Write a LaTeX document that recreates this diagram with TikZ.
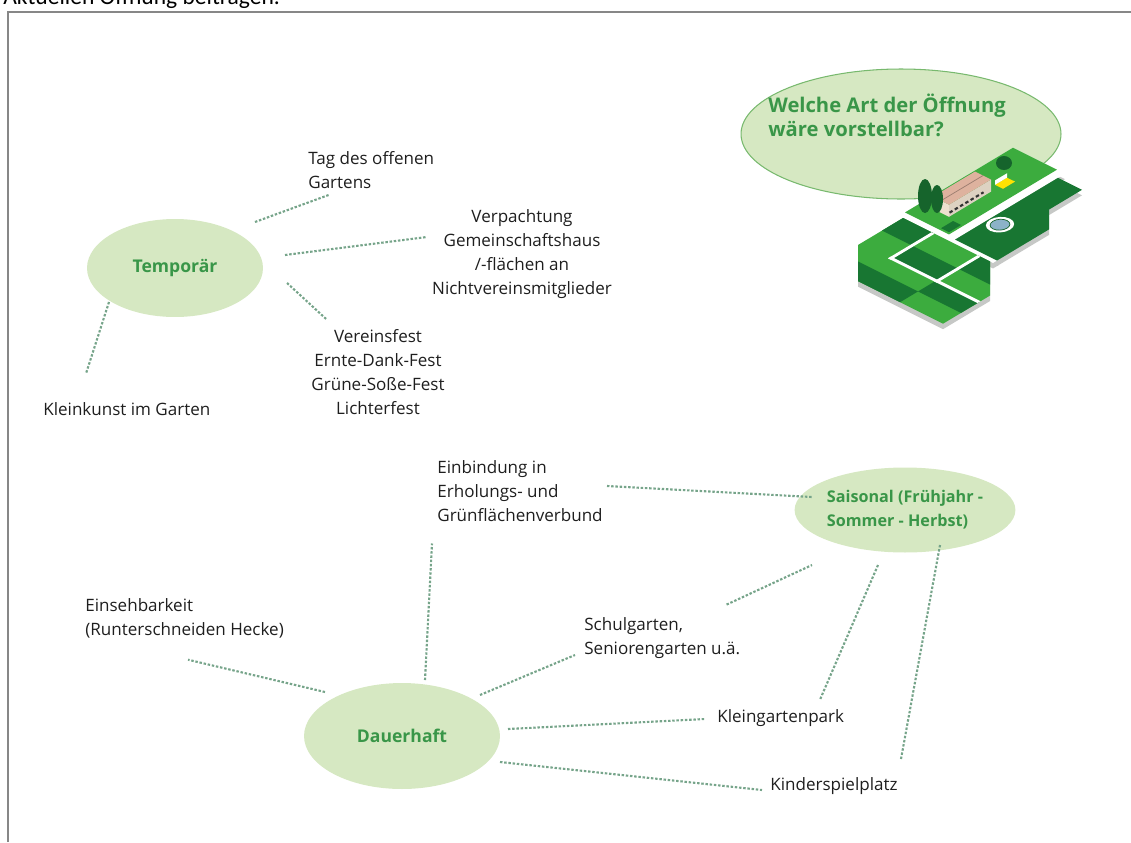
\documentclass[tikz,border=0pt]{standalone}
\usepackage{fontspec}
\setmainfont{Open Sans}
\newfontfamily\capfont{Carlito}
\usetikzlibrary{shapes.geometric,calc}

\definecolor{hubfill}{RGB}{214,232,194}
\definecolor{hubtext}{RGB}{57,150,72}
\definecolor{linkcol}{RGB}{118,164,138}
\definecolor{inkgray}{RGB}{30,30,30}
\definecolor{framegray}{RGB}{135,135,135}
\definecolor{bubbleline}{RGB}{120,185,110}
\definecolor{plotlight}{RGB}{60,172,62}
\definecolor{plotdark}{RGB}{24,118,50}
\definecolor{plotside}{RGB}{198,200,198}
\definecolor{treegreen}{RGB}{22,100,44}
\definecolor{pondblue}{RGB}{140,178,200}
\definecolor{roofred}{RGB}{222,178,158}
\definecolor{wallbeige}{RGB}{238,224,206}

\tikzset{
  hub/.style={ellipse, fill=hubfill, text=hubtext, inner sep=0pt,
    font=\bfseries\fontsize{10}{13.7}\selectfont},
  leaf/.style={text=inkgray, inner sep=0pt, font=\fontsize{9.7}{13.7}\selectfont},
  bubble/.style={ellipse, fill=hubfill, draw=bubbleline, line width=0.6pt,
    minimum width=6.4cm, minimum height=2.6cm},
  ask/.style={text=hubtext, inner sep=0pt, font=\bfseries\fontsize{11.5}{13.7}\selectfont},
  link/.style={linkcol, line width=1.2pt, dash pattern=on 1.4pt off 1pt},
}

\begin{document}
\begin{tikzpicture}[x=0.02cm,y=-0.02cm]
\clip (0,0) rectangle (1131,842);
\useasboundingbox (0,0) rectangle (1131,842);

\node[anchor=base west, inner sep=0pt, font=\capfont\fontsize{13.4}{16}\selectfont] (kopf) at (3,4) {Aktuellen Öffnung beitragen.};
\draw[framegray, line width=1pt] (8,842) -- (8,12) -- (1131,12);

% Fragebubble und Parzelle
\node[bubble] (frage) at (901,134) {};

\begin{scope}[shift={(903,218)}, x={(0.02cm,-0.01cm)}, y={(0.02cm,0.012cm)}]
  \begin{scope}[shift={(5,-5)}]
    \fill[plotside] (0,-45) -- (0,0) -- (87,0) -- (118,-31) -- (118,-78) -- (33,-78) -- cycle;
    \fill[plotside] (48,4) -- (48,107) -- (72,107) -- (72,74) -- (90,56) -- (90,4) -- cycle;
    \fill[plotside] (-4,0) -- (-4,114) -- (48,114) -- (48,6) -- (90,6) -- (90,0) -- cycle;
  \end{scope}
  \fill[white] (-4,0) -- (-4,114) -- (48,114) -- (48,6) -- (90,6) -- (90,0) -- cycle;
  \begin{scope}
    \clip (0,-45) -- (0,0) -- (87,0) -- (118,-31) -- (118,-78) -- (33,-78) -- cycle;
    \fill[plotlight] (-10,-90) -- (-10,10) -- (130,10) -- (130,-90) -- cycle;
    \fill[plotdark] (0,-21) -- (0,0) -- (30,0) -- (30,-21) -- cycle;
    \fill[plotdark] (30,-42) -- (30,-21) -- (76,-21) -- (76,-42) -- cycle;
    \fill[plotdark] (76,-21) -- (76,0) -- (120,0) -- (120,-21) -- cycle;
    \fill[plotdark] (0,-80) -- (0,-60) -- (75,-60) -- (75,-80) -- cycle;
    \fill[plotdark] (75,-60) -- (75,-42) -- (120,-42) -- (120,-60) -- cycle;
    \fill[white] (28.5,-43.5) -- (28.5,0) -- (31.5,0) -- (31.5,-43.5) -- cycle;
    \fill[white] (74.5,-43.5) -- (74.5,0) -- (77.5,0) -- (77.5,-43.5) -- cycle;
    \fill[white] (28.5,-43.5) -- (28.5,-40.5) -- (120,-40.5) -- (120,-43.5) -- cycle;
  \end{scope}
  \fill[plotdark] (48,4) -- (48,107) -- (72,107) -- (72,74) -- (90,56) -- (90,4) -- cycle;
  \fill[plotlight] (-4,6) -- (-4,114) -- (40,114) -- (40,6) -- cycle;
  \fill[plotdark] (30,8) -- (30,20) -- (38,20) -- (38,8) -- cycle;
  \fill[white] (59,38) circle [radius=10];
  \filldraw[fill=pondblue, draw=treegreen, line width=0.4pt] (59,38) circle [radius=7];
  % Haus
  \fill[wallbeige] (8,22) -- (24,22) -- (13,33) -- (-3,33) -- cycle;
  \fill[wallbeige!85!gray] (24,22) -- (24,64) -- (13,75) -- (13,33) -- cycle;
  \fill[roofred] (-3,33) -- (13,33) -- (13,75) -- (-3,75) -- cycle;
  \draw[roofred!70!black, line width=0.4pt] (5,33) -- (5,75);
  \draw[gray!40!black, line width=1.2pt, dash pattern=on 2pt off 1.5pt] (20.5,26) -- (20.5,60);
  \fill[yellow!85!orange] (20,72) -- (28,72) -- (28,84) -- (20,84) -- cycle;
  \fill[white] (16,76) -- (20,72) -- (20,84) -- (16,88) -- cycle;
\end{scope}

\fill[treegreen] (925,196) ellipse (7 and 17);
\fill[treegreen] (937,199) ellipse (6 and 14);
\fill[treegreen] (1004,163) ellipse (8 and 7);

\node[ask, anchor=west, align=left] (fragetext) at (768,115) {Welche Art der Öffnung\\wäre vorstellbar?};

% Temporär
\node[hub, minimum width=3.52cm, minimum height=1.96cm] (temp) at (175,268) {Temporär};
\node[leaf, align=left, anchor=west] (tag) at (308,170) {Tag des offenen\\Gartens};
\node[leaf, align=center] (pacht) at (522,254) {Verpachtung\\Gemeinschaftshaus\\/-flächen an\\Nichtvereinsmitglieder};
\node[leaf, align=center] (feste) at (378,372) {Vereinsfest\\Ernte-Dank-Fest\\Grüne-Soße-Fest\\Lichterfest};
\node[leaf, anchor=west] (kunst) at (43,409) {Kleinkunst im Garten};

\draw[link] ($(temp)+(80,-46)$) -- ($(tag.south west)+(22,5.5)$);
\draw[link] ($(temp)+(110,-13)$) -- ($(pacht.west)+(-5,-17)$);
\draw[link] ($(temp)+(112,15)$) -- ($(feste.north west)+(15.5,-9.5)$);
\draw[link] ($(temp)+(-66,34)$) -- ($(kunst.north west)+(43,-28.5)$);

% Dauerhaft und Saisonal
\node[hub, align=left, minimum width=3.48cm, minimum height=1.7cm,
  font=\bfseries\fontsize{9.2}{13.7}\selectfont] (sais) at (905,510) {Saisonal (Frühjahr -\\Sommer - Herbst)};
\node[hub, minimum width=3.92cm, minimum height=2.12cm] (dauer) at (402,736) {Dauerhaft};
\node[leaf, align=left, anchor=west] (einb) at (437,491) {Einbindung in\\Erholungs- und\\Grünflächenverbund};
\node[leaf, align=left, anchor=west] (einseh) at (85,618) {Einsehbarkeit\\(Runterschneiden Hecke)};
\node[leaf, align=left, anchor=west] (schul) at (584,638) {Schulgarten,\\Seniorengarten u.ä.};
\node[leaf, anchor=west] (kgpark) at (717,718) {Kleingartenpark};
\node[leaf, anchor=west] (kinder) at (770,786) {Kinderspielplatz};

\draw[link] ($(einb.east)+(4,-5)$) -- ($(sais)+(-93,-13)$);
\draw[link] ($(schul.north east)+(-14,-12.5)$) -- ($(sais)+(-93,55)$);
\draw[link] ($(sais)+(-27,55)$) -- ($(kgpark.north west)+(103,-9.5)$);
\draw[link] ($(sais)+(35,35)$) -- ($(kinder.north east)+(3,-17.5)$);
\draw[link] ($(dauer)+(-77,-44)$) -- ($(einseh.south)+(3.5,21.5)$);
\draw[link] ($(dauer)+(23,-56)$) -- ($(einb.south west)+(-5,21.5)$);
\draw[link] ($(dauer)+(78,-41)$) -- ($(schul.west)+(-9,17)$);
\draw[link] ($(dauer)+(106,-7)$) -- ($(kgpark.west)+(-12,1)$);
\draw[link] ($(dauer)+(98,26)$) -- ($(kinder.west)+(-8,4)$);
\end{tikzpicture}
\end{document}
